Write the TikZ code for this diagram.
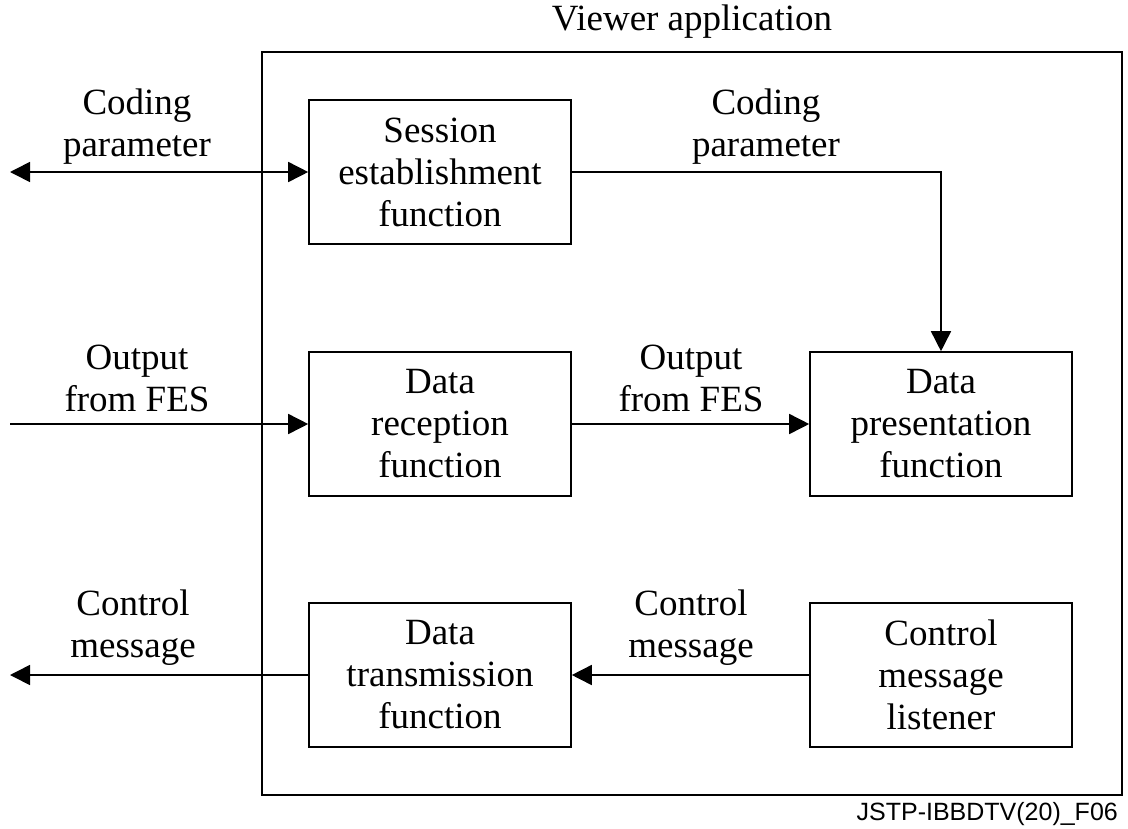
\documentclass[tikz,border=0pt]{standalone}
\usepackage{fontspec}
\setmainfont{Liberation Serif}
\newfontfamily\footfont{Liberation Sans}
\usetikzlibrary{arrows.meta}
\begin{document}
\begin{tikzpicture}[x=1pt,y=-1pt,
  fbox/.style={draw,line width=1.6pt,minimum width=262pt,minimum height=144pt,align=center,inner sep=0pt,
    font=\fontsize{37}{42}\selectfont},
  lbl/.style={align=center,font=\fontsize{37}{42}\selectfont,inner sep=0pt},
  conn/.style={line width=1.6pt,-{Triangle[length=20pt,width=20pt]}},
  dconn/.style={line width=1.6pt,{Triangle[length=20pt,width=20pt]}-{Triangle[length=20pt,width=20pt]}}]
\useasboundingbox (0,0) rectangle (1128,828);
\draw[line width=1.6pt] (262,52) rectangle (1122,795);
\node[lbl] (title) at (692,22) {Viewer application};
\node[fbox] (sess) at (440,172) {Session\\establishment\\function};
\node[fbox] (recv) at (440,424) {Data\\reception\\function};
\node[fbox] (trans) at (440,675) {Data\\transmission\\function};
\node[fbox] (pres) at (941,424) {Data\\presentation\\function};
\node[fbox] (listen) at (941,675) {Control\\message\\listener};
\coordinate (lc) at (10,172);
\coordinate (lo) at (10,424);
\coordinate (lm) at (10,675);
\draw[dconn] (lc) -- (sess.west);
\draw[conn] (lo) -- (recv.west);
\draw[conn] (trans.west) -- (lm);
\draw[conn] (sess.east) -| (pres.north);
\draw[conn] (recv.east) -- (pres.west);
\draw[conn] (listen.west) -- (trans.east);
\node[lbl] (l1) at (137,127) {Coding\\parameter};
\node[lbl] (l2) at (766,127) {Coding\\parameter};
\node[lbl] (l3) at (137,378) {Output\\from FES};
\node[lbl] (l4) at (691,378) {Output\\from FES};
\node[lbl] (l5) at (133,628) {Control\\message};
\node[lbl] (l6) at (691,628) {Control\\message};
\node[anchor=base east,inner sep=0pt,font=\footfont\fontsize{25}{28}\selectfont] (foot) at (1118,820) {JSTP-IBBDTV(20)\_F06};
\end{tikzpicture}
\end{document}
